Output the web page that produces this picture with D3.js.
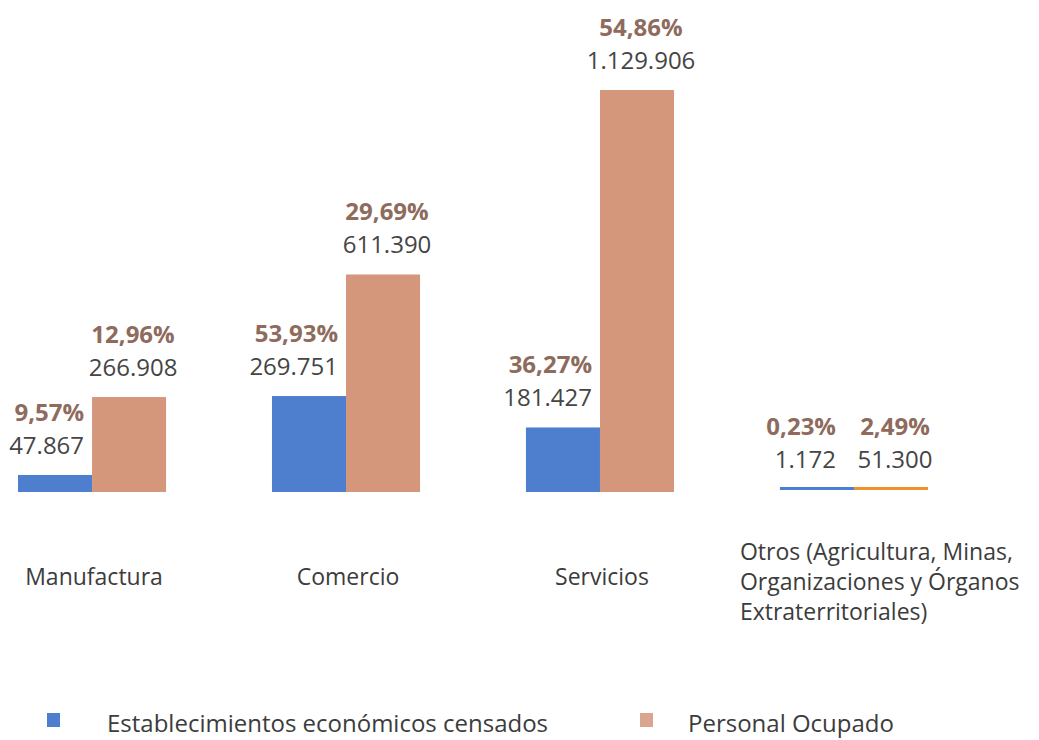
<!DOCTYPE html>
<html>
<head>
<meta charset="utf-8">
<script src="https://cdn.jsdelivr.net/npm/d3@7"></script>
<style>
  body { margin: 0; background: #fff; }
  text { font-family: "Open Sans", sans-serif; }
</style>
</head>
<body>
<script>
  // data
  var categories = ['Manufactura', 'Comercio', 'Servicios',
    'Otros (Agricultura, Minas,|Organizaciones y Órganos|Extraterritoriales)'];
  var establecimientos = [47867, 269751, 181427, 1172];
  var establecimientosPct = ['9,57%', '53,93%', '36,27%', '0,23%'];
  var personal = [266908, 611390, 1129906, 51300];
  var personalPct = ['12,96%', '29,69%', '54,86%', '2,49%'];
  var seriesNames = ['Establecimientos económicos censados', 'Personal Ocupado'];

  var width = 1039, height = 740;
  var baseline = 492, plotTop = 90;

  var svg = d3.select('body').append('svg')
    .attr('width', width)
    .attr('height', height);

  var x0 = d3.scaleBand().domain(categories).range([18, 928]).paddingInner(0.417).paddingOuter(0);
  var x1 = d3.scaleBand().domain([0, 1]).range([0, x0.bandwidth()]);
  var y = d3.scaleLinear().domain([0, 1129906]).range([baseline, plotTop]);

  var fmt = d3.formatLocale({decimal: ',', thousands: '.', grouping: [3], currency: ['', '']}).format(',d');

  var colors = ['#4e7fcf', '#d4977c'];
  var lastColors = ['#4e7fcf', '#f0922c'];
  var last = categories.length - 1;

  var rows = categories.map(function(c, i) {
    return [
      {cat: c, i: i, s: 0, v: establecimientos[i], pct: establecimientosPct[i]},
      {cat: c, i: i, s: 1, v: personal[i], pct: personalPct[i]}
    ];
  });

  var groups = svg.selectAll('g.group')
    .data(rows)
    .enter().append('g')
    .attr('class', 'group')
    .attr('transform', function(d, i) { return 'translate(' + x0(categories[i]) + ',0)'; });

  groups.selectAll('rect')
    .data(function(d) { return d; })
    .enter().append('rect')
    .attr('x', function(d) { return x1(d.s); })
    .attr('width', x1.bandwidth())
    .attr('y', function(d) { return d.i === last ? y(0) - 5 : y(d.v); })
    .attr('height', function(d) { return d.i === last ? 3 : y(0) - y(d.v); })
    .attr('fill', function(d) { return d.i === last ? lastColors[d.s] : colors[d.s]; });

  // value labels
  function labelX(d) {
    if (d.s === 0) return x1(d.s) + x1.bandwidth() - (d.i === last ? 18 : 8);
    return x1(d.s) + x1.bandwidth() / 2 + 4;
  }
  function labelTop(d) { return d.i === last ? y(0) - 3 : y(d.v); }

  groups.selectAll('text.num')
    .data(function(d) { return d; })
    .enter().append('text')
    .attr('class', 'num')
    .attr('x', labelX)
    .attr('y', function(d) { return labelTop(d) - 21; })
    .attr('text-anchor', function(d) { return d.s === 0 ? 'end' : 'middle'; })
    .style('font-size', '24px')
    .style('fill', '#454545')
    .text(function(d) { return fmt(d.v); });

  groups.selectAll('text.pct')
    .data(function(d) { return d; })
    .enter().append('text')
    .attr('class', 'pct')
    .attr('x', labelX)
    .attr('y', function(d) { return labelTop(d) - 54; })
    .attr('text-anchor', function(d) { return d.s === 0 ? 'end' : 'middle'; })
    .style('font-size', '24px')
    .style('font-weight', 'bold')
    .style('fill', '#8e6b5c')
    .text(function(d) { return d.pct; });

  // category labels
  categories.forEach(function(c, i) {
    var lines = c.split('|');
    var t = svg.append('text')
      .style('font-size', '23px')
      .style('fill', '#3c3c3c');
    if (lines.length > 1) {
      t.attr('x', x0(c) - 40).attr('y', 560);
      lines.forEach(function(l, k) {
        t.append('tspan').attr('x', x0(c) - 40).attr('dy', k === 0 ? 0 : 30).text(l);
      });
    } else {
      t.attr('x', x0(c) + x0.bandwidth() / 2 + 2)
        .attr('y', 585)
        .attr('text-anchor', 'middle')
        .text(c);
    }
  });

  // legend
  var legend = svg.append('g')
    .attr('class', 'chartlegend')
    .attr('transform', 'translate(47, 713)');

  var legendX = [0, 593];
  var legendGap = [60, 48];
  var legendColors = ['#4e7fcf', '#d9a58c'];
  seriesNames.forEach(function(name, i) {
    legend.append('rect')
      .attr('x', legendX[i])
      .attr('y', 0)
      .attr('width', 13)
      .attr('height', 14)
      .attr('fill', legendColors[i]);
    legend.append('text')
      .attr('x', legendX[i] + legendGap[i])
      .attr('y', 19)
      .style('font-size', '24px')
      .style('fill', '#3c3c3c')
      .text(name);
  });
</script>
</body>
</html>
